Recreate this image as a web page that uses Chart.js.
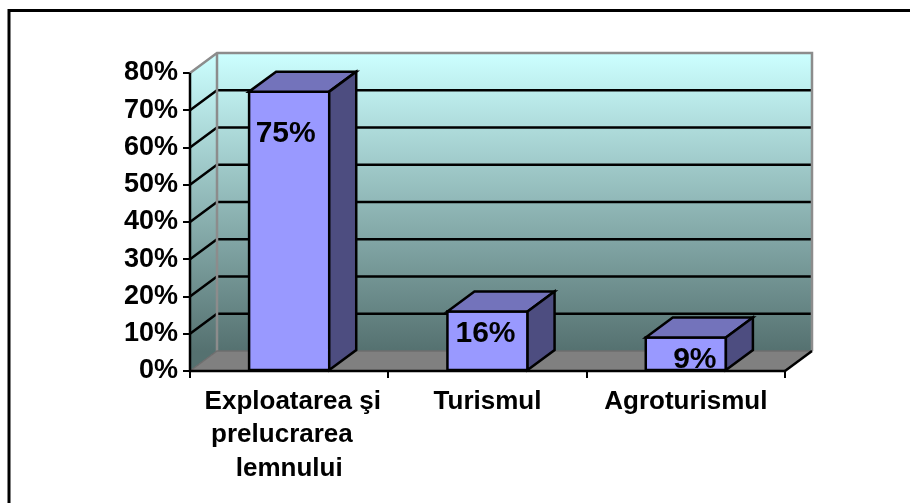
<!DOCTYPE html>
<html><head><meta charset="utf-8">
<style>html,body{margin:0;padding:0;background:#fff}#w{position:relative;width:910px;height:503px}canvas{display:block}</style>
<script src="https://cdn.jsdelivr.net/npm/chart.js@4"></script>
</head><body><div id="w"><canvas id="c" width="910" height="503"></canvas></div>
<script>
const categories = [[" Exploatarea şi","prelucrarea  ","lemnului"],"Turismul","Agroturismul"];
const values = [75,16,9];
const valueLabels = ["75%","16%","9%"];
const yMax = 80, yStep = 10;
const depth = {x:27,y:-20};
const labelNudge = [{x:-3.5,y:42},{x:-2,y:22},{x:9,y:22}];
const FONT = '"Liberation Sans", Arial, sans-serif';

function poly(ctx,pts,fill,stroke,lw){
  ctx.beginPath();pts.forEach((p,i)=>i?ctx.lineTo(p[0],p[1]):ctx.moveTo(p[0],p[1]));ctx.closePath();
  if(fill){ctx.fillStyle=fill;ctx.fill();}
  if(stroke){ctx.strokeStyle=stroke;ctx.lineWidth=lw;ctx.lineJoin='miter';ctx.stroke();}
}
const room = {
  id:'room',
  beforeDatasetsDraw(ch){
    const {ctx,chartArea:a,scales:{y}}=ch, dx=depth.x, dy=depth.y;
    const L=a.left,R=a.right,T=a.top,B=a.bottom;
    const g=ctx.createLinearGradient(0,T+dy,0,B+dy);
    g.addColorStop(0,'#ccffff');g.addColorStop(1,'#557170');
    poly(ctx,[[L+dx,T+dy],[R+dx,T+dy],[R+dx,B+dy],[L+dx,B+dy]],g);
    poly(ctx,[[L,T],[L+dx,T+dy],[L+dx,B+dy],[L,B]],g);
    poly(ctx,[[L,B],[L+dx,B+dy],[R+dx,B+dy],[R,B]],'#808080');
    ctx.strokeStyle='#000';ctx.lineWidth=2.5;
    y.ticks.forEach(t=>{
      if(t.value===0||t.value===yMax)return;
      const p=y.getPixelForValue(t.value);
      ctx.beginPath();ctx.moveTo(L,p);ctx.lineTo(L+dx,p+dy);ctx.lineTo(R+dx,p+dy);ctx.stroke();
    });
    ctx.strokeStyle='#8c8c8c';ctx.lineWidth=2.5;
    ctx.beginPath();ctx.moveTo(L,T);ctx.lineTo(L+dx,T+dy);ctx.lineTo(R+dx,T+dy);ctx.lineTo(R+dx,B+dy);ctx.stroke();
    ctx.beginPath();ctx.moveTo(L+dx,T+dy);ctx.lineTo(L+dx,B+dy);ctx.stroke();
    ctx.strokeStyle='#6e6e6e';ctx.lineWidth=1.5;
    ctx.beginPath();ctx.moveTo(L,B);ctx.lineTo(L+dx,B+dy);ctx.lineTo(R+dx,B+dy);ctx.stroke();
    ctx.strokeStyle='#000';ctx.lineWidth=2.5;
    ctx.beginPath();ctx.moveTo(R,B);ctx.lineTo(R+dx,B+dy);ctx.stroke();
  },
  afterDatasetsDraw(ch){
    const {ctx}=ch, dx=depth.x, dy=depth.y;
    ch.getDatasetMeta(0).data.forEach((b,i)=>{
      const l=b.x-b.width/2,r=b.x+b.width/2,t=b.y,bt=b.base;
      ctx.strokeStyle='#000';ctx.lineWidth=2.5;ctx.strokeRect(l,t,r-l,bt-t);
      poly(ctx,[[l,t],[l+dx,t+dy],[r+dx,t+dy],[r,t]],'#7373bb','#000',2.5);
      poly(ctx,[[r,t],[r+dx,t+dy],[r+dx,bt+dy],[r,bt]],'#4d4d80','#000',2.5);
      ctx.fillStyle='#000';ctx.font='bold 30px '+FONT;ctx.textAlign='center';ctx.textBaseline='middle';
      const n=labelNudge[i];
      ctx.fillText(valueLabels[i],b.x+n.x,t+n.y);
    });
    const a=ch.chartArea;
    ctx.strokeStyle='#000';ctx.lineWidth=2.5;
    ctx.beginPath();ctx.moveTo(a.left,a.top);ctx.lineTo(a.left,a.bottom);ctx.lineTo(a.right,a.bottom);ctx.stroke();
  },
  afterDraw(ch){
    const {ctx}=ch;ctx.strokeStyle='#000';ctx.lineWidth=3;
    ctx.beginPath();ctx.moveTo(9,503);ctx.lineTo(9,10.5);ctx.lineTo(910,10.5);ctx.stroke();
  }
};
new Chart(document.getElementById('c'),{
  type:'bar',
  data:{labels:categories,datasets:[{data:values,backgroundColor:'#9999ff',borderColor:'#000',borderWidth:0,barPercentage:0.404,categoryPercentage:1}]},
  plugins:[room],
  options:{
    responsive:false,animation:false,
    layout:{padding:{left:0,right:125,top:73,bottom:0}},
    plugins:{legend:{display:false},tooltip:{enabled:false}},
    scales:{
      y:{min:0,max:yMax,afterFit(s){s.width=190;},ticks:{stepSize:yStep,callback:v=>v+'%',color:'#000',font:{family:FONT,size:27,weight:'bold'},padding:5},
         grid:{drawOnChartArea:false,drawTicks:true,tickLength:7,color:'#000',lineWidth:2},border:{display:true,color:'#000',width:2}},
      x:{afterFit(s){s.height=132;},ticks:{color:'#000',font:{family:FONT,size:26,weight:'bold',lineHeight:1.29},maxRotation:0,autoSkip:false,padding:7},
         grid:{drawOnChartArea:false,drawTicks:true,tickLength:7,color:'#000',lineWidth:2,offset:true},border:{display:true,color:'#000',width:2}}
    }
  }
});
</script></body></html>
